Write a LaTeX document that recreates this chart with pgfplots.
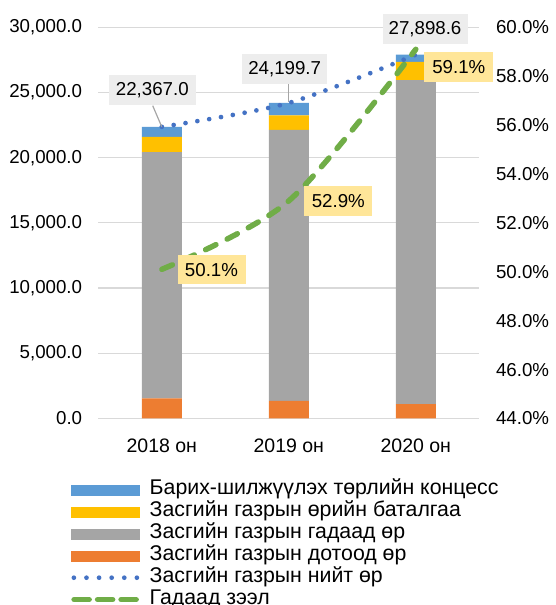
\documentclass[border=0pt]{standalone}
\usepackage{fontspec}
\setmainfont{Liberation Sans}
\usepackage{pgfplots}
\pgfplotsset{compat=1.18}
\definecolor{cBlue}{HTML}{5B9BD5}
\definecolor{cYellow}{HTML}{FFC000}
\definecolor{cGray}{HTML}{A5A5A5}
\definecolor{cOrange}{HTML}{ED7D31}
\definecolor{cLine}{HTML}{4472C4}
\definecolor{cGreen}{HTML}{70AD47}
\definecolor{cGrid}{HTML}{D9D9D9}
\definecolor{cLbl}{HTML}{EDEDED}
\definecolor{cLblY}{HTML}{FFE699}
\begin{document}
\begin{tikzpicture}[x=1bp,y=1bp]
\useasboundingbox (0,0) rectangle (556,605);
\pgfplotsset{
  base/.style={scale only axis, width=381bp, height=391.2bp,
    at={(98.3bp,186.5bp)}, anchor=south west, xmin=-0.5, xmax=2.5,
    font=\fontsize{18.7bp}{22bp}\selectfont,
    /pgf/number format/assume math mode=true,
    major tick length=0pt, axis line style={draw=none}, clip=false},
}
% bars, left axis
\begin{axis}[base, ymin=0, ymax=30000, ytick={0,5000,...,30000},
  scaled y ticks=false,
  yticklabel style={/pgf/number format/fixed, /pgf/number format/fixed zerofill,
    /pgf/number format/precision=1, /pgf/number format/1000 sep={,},
    anchor=east, inner sep=0pt, xshift=-16bp},
  ymajorgrids, grid style={cGrid, line width=1.2bp},
  xtick={0,1,2}, xticklabels={2018 он,2019 он,2020 он},
  xticklabel style={anchor=north, inner sep=0pt, yshift=-19.8bp, font=\fontsize{19.5bp}{22bp}\selectfont},
  ybar stacked, bar width=40bp]
\addplot[fill=cOrange, draw=none] coordinates {(0,1540) (1,1360) (2,1110)};
\addplot[fill=cGray, draw=none] coordinates {(0,18880) (1,20780) (2,24830)};
\addplot[fill=cYellow, draw=none] coordinates {(0,1170) (1,1100) (2,1400)};
\addplot[fill=cBlue, draw=none] coordinates {(0,777) (1,959.7) (2,558.6)};
\end{axis}
% total debt line, left scale
\begin{axis}[base, hide axis, ymin=0, ymax=30000]
\addplot[cLine, line width=4.7bp, dash pattern=on 0bp off 12bp, line cap=round, smooth]
  coordinates {(0,22367.0) (1,24199.7) (2,27898.6)};
\end{axis}
% right axis
\begin{axis}[base, ymin=44, ymax=60, ytick={44,46,...,60},
  axis y line*=right, axis x line=none,
  yticklabel={\pgfmathprintnumber[fixed,fixed zerofill,precision=1]{\tick}\%},
  yticklabel style={anchor=west, inner sep=0pt, xshift=16.5bp},
  legend style={at={(-0.0717,-0.1534)}, anchor=north west, draw=none, fill=none,
    inner sep=0pt, font=\fontsize{21.3bp}{22bp}\selectfont, legend cell align=left,
    nodes={inner sep=0pt, text height=16bp, text depth=6bp},
    /tikz/every odd column/.append style={column sep=8bp}},
  ]
\addlegendimage{legend image code/.code={\fill[cBlue] (0bp,-5bp) rectangle (68bp,5bp);}}
\addlegendentry{Барих-шилжүүлэх төрлийн концесс}
\addlegendimage{legend image code/.code={\fill[cYellow] (0bp,-5bp) rectangle (68bp,5bp);}}
\addlegendentry{Засгийн газрын өрийн баталгаа}
\addlegendimage{legend image code/.code={\fill[cGray] (0bp,-5bp) rectangle (68bp,5bp);}}
\addlegendentry{Засгийн газрын гадаад өр}
\addlegendimage{legend image code/.code={\fill[cOrange] (0bp,-5bp) rectangle (68bp,5bp);}}
\addlegendentry{Засгийн газрын дотоод өр}
\addlegendimage{legend image code/.code={\draw[cLine, line width=4.7bp, line cap=round, dash pattern=on 0bp off 12.6bp] (2.5bp,0) -- (68bp,0);}}
\addlegendentry{Засгийн газрын нийт өр}
\addplot[cGreen, line width=5.5bp, dash pattern=on 11.5bp off 12.5bp, line cap=round, smooth,
  legend image code/.code={\draw[cGreen, line width=5.5bp, line cap=round, dash pattern=on 15bp off 8.5bp] (2.75bp,0) -- (66bp,0);}]
  coordinates {(0,50.1) (1,52.9) (2,59.1)};
\addlegendentry{Гадаад зээл}
\end{axis}
% data labels
\begin{scope}[font=\fontsize{18.7bp}{22bp}\selectfont]
\draw[cGray, line width=1.2bp] (152.7,605-105.7) -- (161.7,605-126.7);
\draw[cGray, line width=1.2bp] (288.3,605-83.7) -- (288.3,605-101.7);
\node[fill=cLbl, minimum width=87bp, minimum height=30bp, inner sep=0pt] at (152.3,605-90.3) {22,367.0};
\node[fill=cLbl, minimum width=85bp, minimum height=30bp, inner sep=0pt] at (284.7,605-68.7) {24,199.7};
\node[fill=cLbl, minimum width=85bp, minimum height=30bp, inner sep=0pt] at (425,605-28.7) {27,898.6};
\node[fill=cLblY, minimum width=68bp, minimum height=29.5bp, inner sep=0pt] at (211.5,605-269.7) {50.1\%};
\node[fill=cLblY, minimum width=68bp, minimum height=29.5bp, inner sep=0pt] at (338.3,605-201) {52.9\%};
\node[fill=cLblY, minimum width=69bp, minimum height=29.5bp, inner sep=0pt] at (458.8,605-67) {59.1\%};
\end{scope}
\end{tikzpicture}
\end{document}
